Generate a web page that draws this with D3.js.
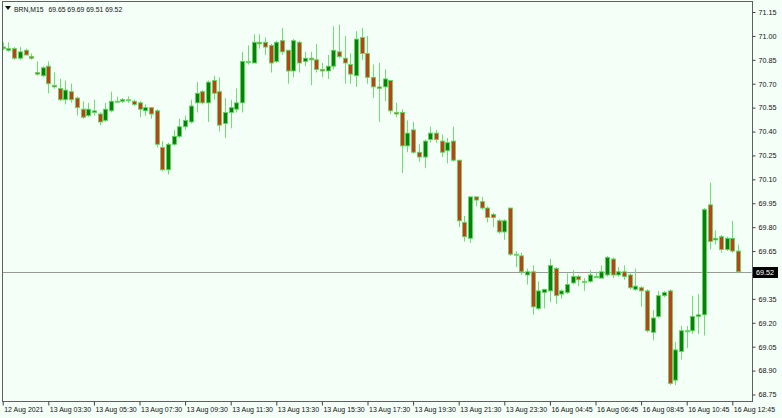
<!DOCTYPE html>
<html><head><meta charset="utf-8">
<script src="https://cdn.jsdelivr.net/npm/d3@7"></script>
<style>
body{margin:0;background:#f4fff7}
svg{display:block}
text{font-family:"Liberation Sans",Arial,sans-serif}
</style>
</head><body><svg id="c" width="782" height="418"></svg>
<script>
const symbol = "BRN,M15";
const opens  = [70.93,70.91,70.92,70.86,70.91,70.87,70.77,70.75,70.81,70.69,70.67,70.60,70.65,70.61,70.54,70.50,70.53,70.51,70.47,70.53,
70.59,70.59,70.60,70.59,70.58,70.53,70.55,70.53,70.30,70.16,70.32,70.37,70.43,70.46,70.58,70.65,70.58,70.72,70.65,70.45,
70.52,70.54,70.58,70.84,70.83,70.96,70.96,70.94,70.84,70.97,70.91,70.78,70.96,70.84,70.86,70.85,70.79,70.78,70.81,70.90,
70.86,70.82,70.75,70.99,70.89,70.74,70.68,70.68,70.72,70.52,70.52,70.31,70.41,70.27,70.24,70.35,70.39,70.34,70.28,70.34,
70.22,69.83,69.73,69.99,69.96,69.92,69.88,69.84,69.77,69.92,69.63,69.62,69.50,69.52,69.29,69.39,69.40,69.54,69.38,69.39,
69.45,69.49,69.46,69.46,69.49,69.48,69.50,69.60,69.50,69.52,69.50,69.41,69.42,69.40,69.14,69.24,69.37,69.40,68.84,69.02,
69.15,69.15,69.24,69.25,69.94,69.72,69.74,69.66,69.73,69.65];
const highs  = [70.96,70.96,70.93,70.93,70.92,70.89,70.84,70.81,70.84,70.77,70.73,70.72,70.70,70.62,70.59,70.58,70.60,70.52,70.58,70.65,
70.62,70.61,70.62,70.60,70.59,70.57,70.55,70.54,70.34,70.33,70.41,70.48,70.50,70.60,70.71,70.66,70.72,70.75,70.74,70.61,
70.60,70.67,70.90,70.94,71.01,71.01,70.99,70.95,70.97,71.05,70.91,70.98,70.97,70.90,70.90,70.95,70.83,70.88,71.06,71.07,
71.00,70.89,71.03,71.05,71.00,70.82,70.83,70.79,70.72,70.58,70.54,70.47,70.46,70.32,70.35,70.43,70.41,70.38,70.36,70.43,
70.22,69.87,69.99,69.99,69.99,69.93,69.89,69.85,69.85,69.92,69.65,69.64,69.54,69.56,69.46,69.41,69.60,69.55,69.41,69.51,
69.53,69.50,69.48,69.53,69.52,69.56,69.62,69.61,69.55,69.56,69.51,69.54,69.43,69.41,69.28,69.40,69.40,69.41,69.08,69.18,
69.18,69.37,69.38,69.92,70.08,69.78,69.75,69.74,69.84,69.69];
const lows   = [70.91,70.90,70.85,70.85,70.88,70.85,70.75,70.74,70.64,70.67,70.59,70.57,70.58,70.50,70.48,70.49,70.50,70.44,70.46,70.52,
70.58,70.58,70.58,70.56,70.49,70.50,70.48,70.30,70.15,70.13,70.31,70.36,70.41,70.45,70.52,70.57,70.46,70.60,70.40,70.36,
70.42,70.52,70.52,70.82,70.83,70.92,70.88,70.77,70.83,70.88,70.70,70.74,70.77,70.81,70.69,70.77,70.74,70.73,70.79,70.86,
70.70,70.70,70.68,70.85,70.70,70.61,70.46,70.59,70.51,70.49,70.14,70.27,70.26,70.21,70.17,70.33,70.33,70.24,70.20,70.21,
69.80,69.71,69.70,69.93,69.91,69.83,69.80,69.76,69.72,69.62,69.55,69.50,69.44,69.25,69.28,69.29,69.33,69.32,69.35,69.38,
69.44,69.43,69.40,69.45,69.48,69.48,69.49,69.48,69.49,69.47,69.41,69.40,69.30,69.14,69.09,69.23,69.36,68.81,68.81,68.97,
69.04,69.13,69.13,69.12,69.66,69.69,69.64,69.65,69.64,69.51];
const closes = [70.92,70.92,70.86,70.90,70.88,70.86,70.76,70.80,70.70,70.68,70.60,70.66,70.60,70.55,70.49,70.54,70.52,70.46,70.54,70.59,
70.59,70.60,70.60,70.57,70.54,70.55,70.51,70.32,70.16,70.32,70.37,70.43,70.47,70.56,70.64,70.58,70.71,70.64,70.44,70.52,
70.55,70.58,70.84,70.84,70.96,70.95,70.93,70.83,70.96,70.90,70.78,70.97,70.83,70.86,70.85,70.79,70.78,70.81,70.91,70.87,
70.83,70.76,70.98,70.89,70.74,70.68,70.67,70.73,70.53,70.51,70.31,70.39,70.27,70.24,70.34,70.39,70.35,70.27,70.33,70.22,
69.84,69.74,69.99,69.97,69.92,69.86,69.86,69.77,69.84,69.63,69.63,69.52,69.52,69.30,69.40,69.41,69.56,69.37,69.40,69.44,
69.49,69.47,69.46,69.50,69.49,69.52,69.61,69.50,69.52,69.49,69.42,69.43,69.40,69.15,69.23,69.37,69.39,68.82,69.03,69.15,
69.15,69.24,69.25,69.91,69.71,69.73,69.66,69.73,69.65,69.52];
const priceTicks = ["71.15","71.00","70.85","70.70","70.55","70.40","70.25","70.10","69.95","69.80","69.65","69.50","69.35","69.20","69.05","68.90","68.75"];
const timeTickBars = [0,8,16,24,32,40,48,56,64,72,80,88,96,104,112,120,128];
const timeTickLabels = ["12 Aug 2021","13 Aug 03:30","13 Aug 05:30","13 Aug 07:30","13 Aug 09:30","13 Aug 11:30","13 Aug 13:30","13 Aug 15:30","13 Aug 17:30","13 Aug 19:30","13 Aug 21:30","13 Aug 23:30","16 Aug 04:45","16 Aug 06:45","16 Aug 08:45","16 Aug 10:45","16 Aug 12:45"];

(function () {
const W = 782, H = 418;
const pL = 2, pR = 752, pT = 1, pB = 401;
const svg = d3.select("#c");
svg.append("rect").attr("width", W).attr("height", H).attr("fill", "#f4fff7");

const n = opens.length;
const x = d3.scaleLinear().domain([0, n - 1]).range([2.7, 738]);
const y = d3.scaleLinear().domain([68.75, 71.15]).range([394.5, 12]);

svg.append("defs").append("clipPath").attr("id", "plot")
  .append("rect").attr("x", pL + 0.5).attr("y", pT).attr("width", pR - pL - 1).attr("height", pB - pT);

const data = d3.range(n).map(i => ({i, o: opens[i], h: highs[i], l: lows[i], c: closes[i]}));
const g = svg.append("g").attr("clip-path", "url(#plot)");

const last = closes[n - 1];
g.append("line").attr("x1", pL).attr("x2", pR)
  .attr("y1", Math.round(y(last)) + 0.5).attr("y2", Math.round(y(last)) + 0.5)
  .attr("stroke", "#9a9a9a").attr("stroke-width", 1);

const wickCol = "#6fe06f";
g.selectAll("line.wick").data(data).join("line").attr("class", "wick")
  .attr("x1", d => Math.round(x(d.i)) + 0.5).attr("x2", d => Math.round(x(d.i)) + 0.5)
  .attr("y1", d => y(d.h)).attr("y2", d => y(d.l))
  .attr("stroke", wickCol).attr("stroke-width", 1);

g.selectAll("rect.body").data(data).join("rect").attr("class", "body")
  .attr("x", d => Math.round(x(d.i)) - 1.5)
  .attr("width", 4)
  .attr("y", d => y(Math.max(d.o, d.c)))
  .attr("height", d => Math.max(1, Math.abs(y(d.o) - y(d.c))))
  .attr("fill", d => d.c > d.o ? "#0a7f0a" : (d.c < d.o ? "#c53c18" : wickCol))
  .attr("stroke", "#5cd95c").attr("stroke-width", 0.9);

svg.append("rect").attr("x", pL + 0.5).attr("y", pT + 0.5)
  .attr("width", pR - pL).attr("height", pB - pT)
  .attr("fill", "none").attr("stroke", "#606060").attr("stroke-width", 1);

const yAxis = d3.axisRight(y).tickValues(priceTicks.map(Number))
  .tickFormat((d, i) => priceTicks[i]).tickSize(3).tickPadding(3);
const ya = svg.append("g").attr("transform", `translate(${pR + 0.5},0)`).call(yAxis);
ya.select(".domain").remove();
ya.selectAll("line").attr("stroke", "#404040");
ya.selectAll("text").attr("font-size", 7.2).attr("fill", "#111")
  .style("font-family", '"Liberation Sans",Arial,sans-serif');

const xAxis = d3.axisBottom(x).tickValues(timeTickBars)
  .tickFormat((d, i) => timeTickLabels[i]).tickSize(4).tickPadding(3);
const xa = svg.append("g").attr("transform", `translate(0,${pB + 0.5})`).call(xAxis);
xa.select(".domain").remove();
xa.selectAll("line").attr("stroke", "#404040");
xa.selectAll("text").attr("font-size", 7).attr("fill", "#111")
  .attr("text-anchor", "start").attr("dx", 1).attr("dy", "0.55em")
  .style("font-family", '"Liberation Sans",Arial,sans-serif');

const py = Math.round(y(last));
svg.append("rect").attr("x", pR + 1).attr("y", py - 5).attr("width", 25).attr("height", 11).attr("fill", "#000");
svg.append("text").attr("x", pR + 4).attr("y", py + 3.2).attr("fill", "#fff")
  .attr("font-size", 7.2).text(d3.format(".2f")(last));

svg.append("path").attr("d", "M5,6 L11,6 L8,10 Z").attr("fill", "#111");
const hdr = svg.append("text").attr("x", 14).attr("y", 12).attr("font-size", 6.8).attr("fill", "#111");
hdr.append("tspan").text(symbol);
hdr.append("tspan").attr("dx", 5)
  .text([opens[n-1], highs[n-1], lows[n-1], closes[n-1]].map(d3.format(".2f")).join(" "));
})();
</script></body></html>
